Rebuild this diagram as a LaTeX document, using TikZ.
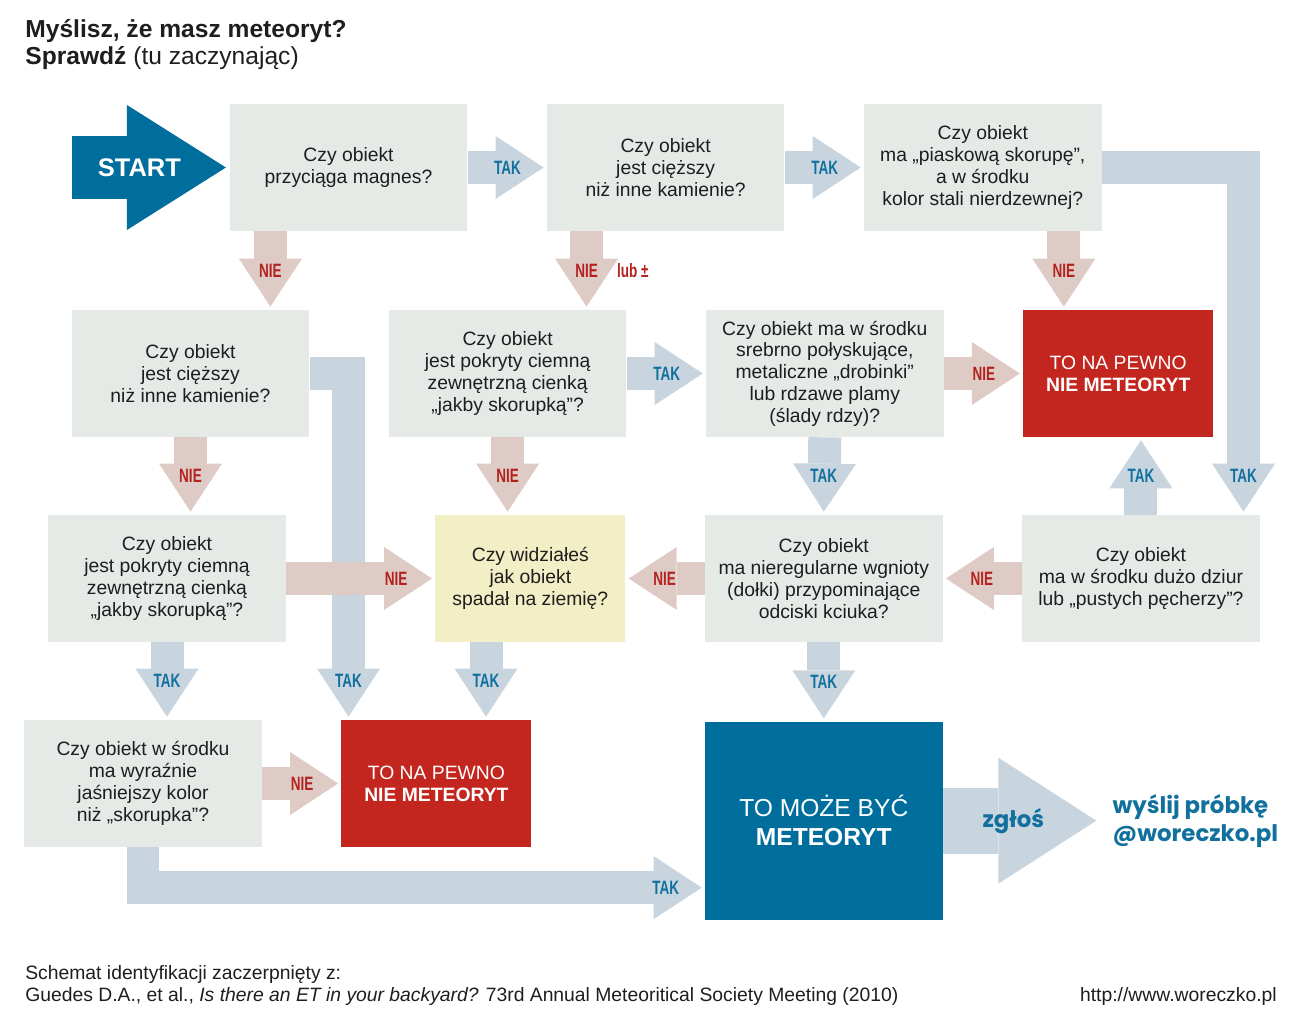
\documentclass[tikz,border=0pt]{standalone}
\usepackage{fontspec}
\setmainfont{Liberation Sans}
\newfontfamily\condfont[FakeStretch=0.7]{Liberation Sans}
\newfontfamily\geofont{Poppins}
\usetikzlibrary{arrows.meta, positioning}
\definecolor{meteoblue}{HTML}{006E9D}
\definecolor{surered}{HTML}{C3261F}
\definecolor{qgray}{HTML}{E6EAE7}
\definecolor{qyellow}{HTML}{F2EEC5}
\definecolor{takfill}{HTML}{C8D5DF}
\definecolor{niefill}{HTML}{DFCBC6}
\definecolor{takblue}{HTML}{11709D}
\definecolor{niered}{HTML}{B3221F}
\definecolor{textdark}{HTML}{1E1E1E}

\begin{document}
\begin{tikzpicture}[
    x = 0.02cm, y = -0.02cm,
    node distance = 1.58cm,
    question/.style = {rectangle, fill=qgray, minimum width=4.75cm,
                       minimum height=2.54cm, align=center, inner sep=1pt,
                       text=textdark, font=\fontsize{11}{12.4}\selectfont},
    seen/.style     = {question, fill=qyellow, minimum width=3.8cm},
    verdict/.style  = {question, fill=surered, text=white, minimum width=3.8cm},
    maybe/.style    = {question, fill=meteoblue, text=white, minimum height=3.96cm,
                       font=\fontsize{14}{16.5}\selectfont},
    takarrow/.style = {draw=takfill, line width=0.66cm, shorten >=0.06cm,
                       -{Triangle[length=0.96cm, width=1.26cm, line width=0pt]}},
    niearrow/.style = {takarrow, draw=niefill},
    startarrow/.style = {draw=meteoblue, line width=1.26cm, shorten >=0.07cm,
                       -{Triangle[length=1.98cm, width=2.5cm, line width=0pt]}},
    sendarrow/.style  = {draw=takfill, line width=1.32cm,
                       -{Triangle[length=1.96cm, width=2.52cm, line width=0pt]}},
    taklabel/.style = {text=takblue, inner sep=0pt,
                       font=\condfont\bfseries\fontsize{11}{11}\selectfont},
    nielabel/.style = {taklabel, text=niered},
    starttext/.style = {text=white, inner sep=0pt,
                       font=\bfseries\fontsize{14.5}{14.5}\selectfont},
    sendtext/.style = {text=takblue, inner sep=0pt, align=left,
                       font=\geofont\bfseries\fontsize{13}{15.9}\selectfont},
    plaintext/.style = {text=textdark, inner sep=0pt, align=left}
  ]
  \useasboundingbox (0,0) rectangle (1300,1020);

  % heading and source
  \node[plaintext, anchor=base west, font=\fontsize{14}{15.4}\selectfont] (title) at (25,65)
    {\textbf{Myślisz, że masz meteoryt?}\\\textbf{Sprawdź} (tu zaczynając)};
  \node[plaintext, anchor=base west, font=\fontsize{11}{12.4}\selectfont] (source) at (25,1001)
    {Schemat identyfikacji zaczerpnięty z:\\Guedes D.A., et al., \textit{Is there an ET in your backyard?} 73rd Annual Meteoritical Society Meeting (2010)};
  \node[plaintext, anchor=base east, font=\fontsize{11}{12.4}\selectfont] (website) at (1277,1001)
    {http://www.woreczko.pl};

  % questions
  \node[question] (qmagnet) at (348.5,167.5) {Czy obiekt\\przyciąga magnes?};
  \node[question, right=of qmagnet] (qheavy) {Czy obiekt\\jest cięższy\\niż inne kamienie?};
  \node[question, right=of qheavy]  (qsand)  {Czy obiekt\\ma „piaskową skorupę”,\\a w środku\\kolor stali nierdzewnej?};

  \node[question] (qheavyb) at (190.5,373.5) {Czy obiekt\\jest cięższy\\niż inne kamienie?};
  \node[question, right=of qheavyb] (qcrust)  {Czy obiekt\\jest pokryty ciemną\\zewnętrzną cienką\\„jakby skorupką”?};
  \node[question, right=of qcrust]  (qmetal)  {Czy obiekt ma w środku\\srebrno połyskujące,\\metaliczne „drobinki”\\lub rdzawe plamy\\(ślady rdzy)?};
  \node[verdict, right=of qmetal]   (notmeta) {TO NA PEWNO\\\textbf{NIE METEORYT}};

  \node[question] (qcrustb) at (167,578.5) {Czy obiekt\\jest pokryty ciemną\\zewnętrzną cienką\\„jakby skorupką”?};
  \node[seen, right=2.98cm of qcrustb] (qseen)  {Czy widziałeś\\jak obiekt\\spadał na ziemię?};
  \node[question, right=of qseen]      (qthumb) {Czy obiekt\\ma nieregularne wgnioty\\(dołki) przypominające\\odciski kciuka?};
  \node[question, right=of qthumb]     (qholes) {Czy obiekt\\ma w środku dużo dziur\\lub „pustych pęcherzy”?};

  \node[question] (qlight) at (143,783.5) {Czy obiekt w środku\\ma wyraźnie\\jaśniejszy kolor\\niż „skorupka”?};
  \node[verdict, right=of qlight] (notmetb) {TO NA PEWNO\\\textbf{NIE METEORYT}};
  \node[maybe, below=of qthumb]   (meteo)   {TO MOŻE BYĆ\\\textbf{METEORYT}};

  % start
  \coordinate (startpt) at (72,167.5);
  \draw[startarrow] (startpt) -- (qmagnet.west) node[starttext, xshift=-1.8cm] (startlbl) {START};

  % first row
  \draw[takarrow] (qmagnet.east) -- (qheavy.west) node[taklabel, xshift=-0.78cm] {TAK};
  \draw[takarrow] (qheavy.east) -- (qsand.west) node[taklabel, xshift=-0.78cm] {TAK};
  \draw[takarrow] (qsand.east) -| ([xshift=-0.33cm]qholes.north east) node[taklabel, yshift=0.78cm] {TAK};
  \draw[niearrow] ([xshift=0.82cm]qmagnet.south west) -- ([xshift=0.82cm]qmagnet.south west |- qheavyb.north)
    node[nielabel, yshift=0.78cm] {NIE};
  \draw[niearrow] ([xshift=0.8cm]qheavy.south west) -- ([xshift=0.8cm]qheavy.south west |- qcrust.north)
    node[nielabel, yshift=0.78cm] (lubnie) {NIE};
  \node[nielabel, right=0.05cm of lubnie] (lub) {lub ±};
  \draw[niearrow] ([xshift=-0.76cm]qsand.south east) -- ([xshift=-0.76cm]qsand.south east |- notmeta.north)
    node[nielabel, yshift=0.78cm] {NIE};

  % second row
  \draw[takarrow] (qheavyb.east) -| ([xshift=0.15cm]notmetb.north west) node[taklabel, yshift=0.78cm] {TAK};
  \draw[takarrow] (qcrust.east) -- (qmetal.west) node[taklabel, xshift=-0.78cm] {TAK};
  \draw[niearrow] (qmetal.east) -- (notmeta.west) node[nielabel, xshift=-0.78cm] {NIE};
  \draw[niearrow] (qheavyb.south) -- (qheavyb.south |- qcrustb.north) node[nielabel, yshift=0.78cm] {NIE};
  \draw[niearrow] (qcrust.south) -- (qcrust.south |- qseen.north) node[nielabel, yshift=0.78cm] {NIE};
  \draw[takarrow] (qmetal.south) -- (qthumb.north) node[taklabel, yshift=0.78cm] {TAK};
  \draw[takarrow] (qholes.north) -- (qholes.north |- notmeta.south) node[taklabel, yshift=-0.78cm] {TAK};

  % third row
  \draw[niearrow] (qcrustb.east) -- (qseen.west) node[nielabel, xshift=-0.78cm] {NIE};
  \draw[niearrow] (qthumb.west) -- (qseen.east) node[nielabel, xshift=0.78cm] {NIE};
  \draw[niearrow] (qholes.west) -- (qthumb.east) node[nielabel, xshift=0.78cm] {NIE};
  \draw[takarrow] (qcrustb.south) -- (qcrustb.south |- qlight.north) node[taklabel, yshift=0.78cm] {TAK};
  \draw[takarrow] ([xshift=1.02cm]qseen.south west) -- ([xshift=1.02cm]qseen.south west |- notmetb.north)
    node[taklabel, yshift=0.78cm] {TAK};
  \draw[takarrow] (qthumb.south) -- (meteo.north) node[taklabel, yshift=0.78cm] {TAK};

  % last row
  \draw[niearrow] (qlight.east) -- (notmetb.west) node[nielabel, xshift=-0.78cm] {NIE};
  \draw[takarrow] (qlight.south) |- ([yshift=-1.34cm]meteo.west) node[taklabel, xshift=-0.78cm] {TAK};

  % report
  \coordinate[right=3.07cm of meteo.east] (sendpt);
  \draw[sendarrow] (meteo.east) -- (sendpt) node[sendtext, xshift=-1.66cm] (sendlbl) {zgłoś};
  \node[sendtext, right=0.32cm of sendpt] (mailto) {wyślij próbkę\\@woreczko.pl};
\end{tikzpicture}
\end{document}
